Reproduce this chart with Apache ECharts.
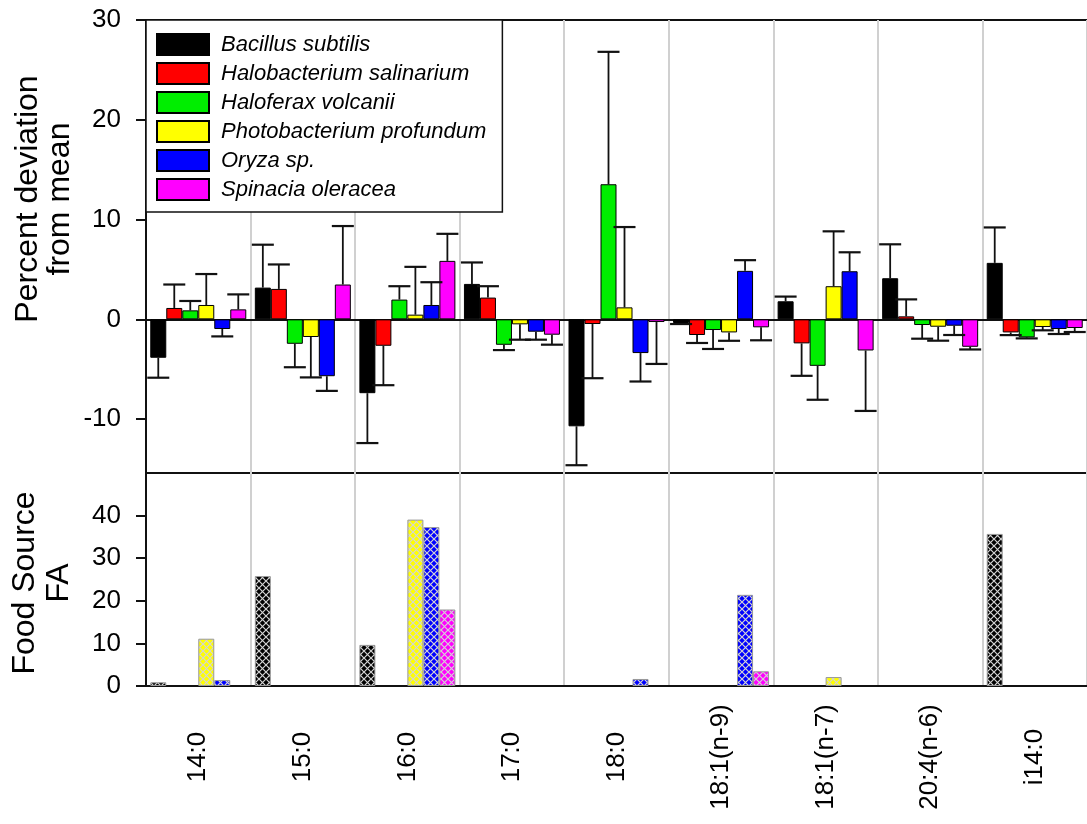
<!DOCTYPE html>
<html>
<head>
<meta charset="utf-8">
<script src="https://cdn.jsdelivr.net/npm/echarts@6/dist/echarts.min.js"></script>
<style>
html,body{margin:0;padding:0;background:#fff;}
#main{width:1087px;height:824px;}
</style>
</head>
<body>
<div id="main"></div>
<script>
// fatty acid categories
const categories = ['14:0', '15:0', '16:0', '17:0', '18:0', '18:1(n-9)', '18:1(n-7)', '20:4(n-6)', 'i14:0'];
const species = ['Bacillus subtilis', 'Halobacterium salinarium', 'Haloferax volcanii', 'Photobacterium profundum', 'Oryza sp.', 'Spinacia oleracea'];
const colors = ['#000000', '#ff0000', '#00ee00', '#ffff00', '#0000ff', '#ff00ff'];

// percent deviation from mean (top panel) and error bar sizes
const bacillusDev = [-3.85, 3.18, -7.4, 3.55, -10.72, -0.37, 1.81, 4.12, 5.66];
const bacillusErr = [2.0, 4.3, 5.0, 2.15, 3.9, 0.1, 0.47, 3.4, 3.55];
const halobacteriumDev = [1.14, 3.05, -2.65, 2.18, -0.47, -1.57, -2.41, 0.3, -1.31];
const halobacteriumErr = [2.35, 2.45, 3.95, 1.14, 5.43, 0.8, 3.25, 1.7, 0.27];
const haloferaxDev = [0.9, -2.45, 1.98, -2.55, 13.54, -1.07, -4.66, -0.57, -1.81];
const haloferaxErr = [0.94, 2.35, 1.34, 0.53, 13.27, 1.9, 3.4, 1.37, 0.1];
const photobacteriumDev = [1.44, -1.77, 0.47, -0.5, 1.2, -1.31, 3.32, -0.74, -0.77];
const photobacteriumErr = [3.1, 4.05, 4.79, 1.54, 8.05, 0.84, 5.5, 1.4, 0.33];
const oryzaDev = [-0.97, -5.7, 1.44, -1.24, -3.38, 4.86, 4.82, -0.64, -0.97];
const oryzaErr = [0.74, 1.47, 2.28, 0.8, 2.85, 1.07, 1.9, 0.93, 0.5];
const spinaciaDev = [1.0, 3.49, 5.86, -1.54, -0.27, -0.8, -3.12, -2.75, -0.87];
const spinaciaErr = [1.5, 5.86, 2.71, 1.0, 4.2, 1.3, 6.06, 0.27, 0.4];

// food source FA (bottom panel), null = no bar
const bacillusFA = [0.87, 25.8, 9.65, null, null, null, null, null, 35.7];
const halobacteriumFA = [null, null, null, null, null, null, null, null, null];
const haloferaxFA = [null, null, null, null, null, null, null, null, null];
const photobacteriumFA = [11.1, null, 39.06, null, null, null, 2.1, null, null];
const oryzaFA = [1.4, null, 37.3, null, 1.65, 21.4, null, null, null];
const spinaciaFA = [null, null, 17.96, null, null, 3.45, null, null, null];

// tick labels
const devTicks = [-10, 0, 10, 20, 30];
const faTicks = [0, 10, 20, 30, 40];

const devData = [bacillusDev, halobacteriumDev, haloferaxDev, photobacteriumDev, oryzaDev, spinaciaDev];
const errData = [bacillusErr, halobacteriumErr, haloferaxErr, photobacteriumErr, oryzaErr, spinaciaErr];
const faData = [bacillusFA, halobacteriumFA, haloferaxFA, photobacteriumFA, oryzaFA, spinaciaFA];

const FONT = '"Liberation Sans", Arial, sans-serif';
const BAR_W = 16;

// crosshatch fill for the food source bars
function hatch(color) {
    const c = document.createElement('canvas');
    c.width = 7; c.height = 7;
    const g = c.getContext('2d');
    g.fillStyle = color;
    g.fillRect(0, 0, 7, 7);
    g.strokeStyle = '#d4d4d4';
    g.lineWidth = 1.2;
    g.beginPath();
    g.moveTo(0, 0); g.lineTo(7, 7);
    g.moveTo(7, 0); g.lineTo(0, 7);
    g.stroke();
    return c;
}

let myChart = echarts.init(document.getElementById('main'));

const series = [];
species.forEach((name, i) => {
    series.push({
        name: name,
        type: 'bar',
        xAxisIndex: 0, yAxisIndex: 0,
        barWidth: BAR_W,
        barGap: '0%',
        itemStyle: { color: colors[i], borderColor: '#000', borderWidth: 1 },
        data: devData[i]
    });
});
species.forEach((name, i) => {
    const offset = (i - 2.5) * BAR_W;
    series.push({
        name: 'err ' + name,
        type: 'custom',
        xAxisIndex: 0, yAxisIndex: 0,
        z: 5,
        renderItem: function (params, api) {
            const v = api.value(1), e = api.value(2);
            const end = v >= 0 ? v + e : v - e;
            const p0 = api.coord([api.value(0), v]);
            const p1 = api.coord([api.value(0), end]);
            const x = p0[0] + offset;
            return {
                type: 'group',
                children: [
                    { type: 'line', shape: { x1: x, y1: p0[1], x2: x, y2: p1[1] }, style: { stroke: '#111', lineWidth: 1.8 } },
                    { type: 'line', shape: { x1: x - 11, y1: p1[1], x2: x + 11, y2: p1[1] }, style: { stroke: '#111', lineWidth: 2.2 } }
                ]
            };
        },
        data: devData[i].map((v, k) => [k, v, errData[i][k]])
    });
});
species.forEach((name, i) => {
    series.push({
        name: 'FA ' + name,
        type: 'bar',
        xAxisIndex: 1, yAxisIndex: 1,
        barWidth: BAR_W,
        barGap: '0%',
        itemStyle: { color: { image: hatch(colors[i]), repeat: 'repeat' }, borderColor: '#999', borderWidth: 1 },
        data: faData[i]
    });
});

const options = {
    animation: false,
    backgroundColor: '#fff',
    textStyle: { fontFamily: FONT, color: '#000' },
    grid: [
        { left: 146, top: 20, width: 949.5, height: 453, show: true, borderColor: '#111', borderWidth: 2 },
        { left: 146, top: 473, width: 949.5, height: 213 }
    ],
    legend: {
        data: species,
        orient: 'vertical',
        left: 146, top: 20,
        padding: [13, 16, 11, 10],
        itemWidth: 52, itemHeight: 21, itemGap: 6,
        icon: 'rect',
        backgroundColor: '#fff',
        borderColor: '#111', borderWidth: 1.5,
        textStyle: { fontFamily: FONT, fontSize: 22, fontStyle: 'italic', color: '#000', padding: [0, 0, 0, 7] }
    },
    xAxis: [
        {
            type: 'category', gridIndex: 0, data: categories,
            axisLine: { onZero: true, lineStyle: { color: '#111', width: 2 } },
            axisTick: { show: false }, axisLabel: { show: false },
            splitLine: { show: true, lineStyle: { color: '#d0d0d0', width: 2 } }
        },
        {
            type: 'category', gridIndex: 1, data: categories,
            axisLine: { lineStyle: { color: '#111', width: 2 } },
            axisTick: { alignWithLabel: true, length: 10, lineStyle: { color: '#111', width: 2 } },
            axisLabel: { rotate: 90, align: 'center', verticalAlign: 'middle', margin: 71, fontSize: 26, color: '#000', fontFamily: FONT, interval: 0 },
            splitLine: { show: true, lineStyle: { color: '#d0d0d0', width: 2 } }
        }
    ],
    yAxis: [
        {
            type: 'value', gridIndex: 0, min: -15.4, max: 30,
            axisLine: { show: true, lineStyle: { color: '#111', width: 2 } },
            axisTick: { show: true, length: 10, customValues: devTicks, lineStyle: { color: '#111', width: 2 } },
            axisLabel: { customValues: devTicks, fontSize: 26, margin: 25, color: '#000', fontFamily: FONT },
            splitLine: { show: false }
        },
        {
            type: 'value', gridIndex: 1, min: 0, max: 50,
            axisLine: { show: true, lineStyle: { color: '#111', width: 2 } },
            axisTick: { show: true, length: 10, customValues: faTicks, lineStyle: { color: '#111', width: 2 } },
            axisLabel: { customValues: faTicks, fontSize: 26, margin: 25, color: '#000', fontFamily: FONT },
            splitLine: { show: false }
        }
    ],
    graphic: [
        {
            type: 'text', x: 44, y: 199, rotation: Math.PI / 2,
            style: { text: 'Percent deviation\nfrom mean', font: '32px ' + FONT, fill: '#000', align: 'center', verticalAlign: 'middle', lineHeight: 32 }
        },
        {
            type: 'text', x: 42, y: 583, rotation: Math.PI / 2,
            style: { text: 'Food Source\nFA', font: '32px ' + FONT, fill: '#000', align: 'center', verticalAlign: 'middle', lineHeight: 34 }
        }
    ],
    series: series
};
myChart.setOption(options);
</script>
</body>
</html>
